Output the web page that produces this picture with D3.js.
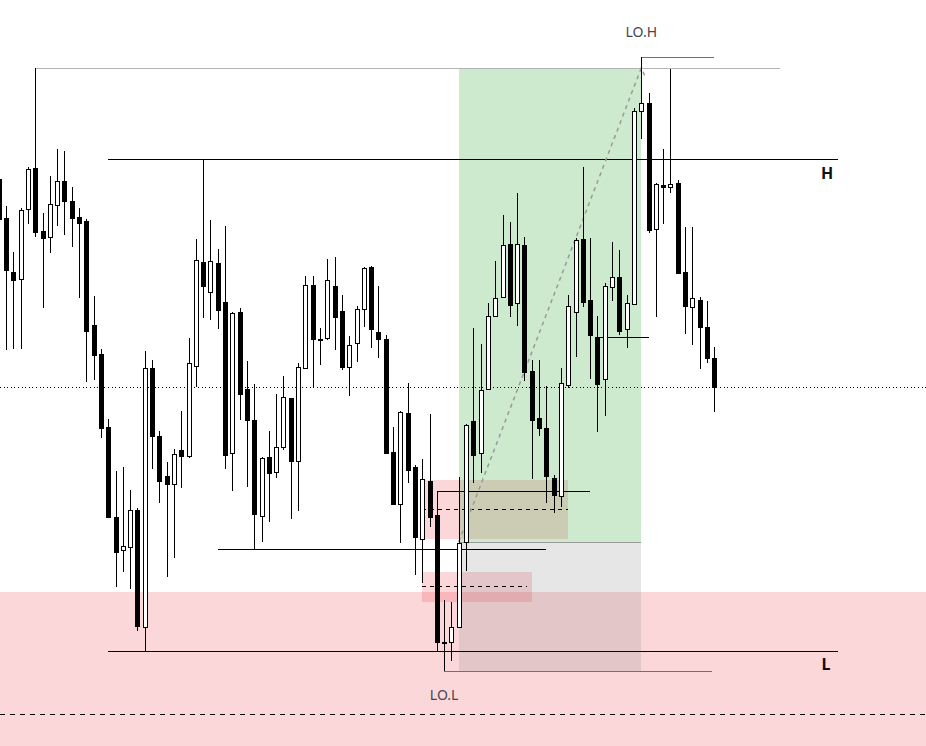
<!DOCTYPE html>
<html>
<head>
<meta charset="utf-8">
<script src="https://cdn.jsdelivr.net/npm/d3@7/dist/d3.min.js"></script>
<style>
  body { margin: 0; background: #fff; }
  svg { display: block; }
</style>
</head>
<body>
<svg id="chart"></svg>
<script>
// one candle per bar, oldest first (first bar is cut by the left edge)
const opens = [
  821, 782, 728, 721, 791, 832, 769, 763, 795, 819,
  799, 783, 779, 675, 646, 573, 483, 450, 453, 490,
  373, 632, 564, 524, 516, 550, 544, 634, 738, 708,
  737, 698, 547, 688, 611, 580, 484, 543, 528, 553,
  602, 539, 632, 715, 661, 662, 714, 689, 633, 657,
  691, 733, 668, 661, 548, 496, 587, 533, 461, 519,
  485, 358, 358, 373, 458, 579, 547, 611, 684, 703,
  756, 697, 755, 629, 582, 572, 522, 504, 615, 688,
  761, 700, 663, 621, 713, 723, 671, 696, 889, 897,
  771, 815, 813, 817, 728, 693, 700, 673, 642
];
const highs = [
  830, 794, 748, 792, 833, 932, 787, 824, 851, 849,
  813, 792, 781, 704, 651, 581, 529, 533, 510, 492,
  649, 640, 569, 538, 551, 589, 662, 761, 841, 780,
  751, 774, 688, 692, 639, 616, 543, 569, 606, 624,
  602, 637, 724, 724, 672, 741, 743, 705, 664, 694,
  733, 734, 714, 665, 573, 589, 617, 535, 541, 586,
  509, 400, 398, 523, 576, 672, 656, 697, 739, 785,
  778, 807, 763, 640, 640, 614, 525, 632, 705, 762,
  833, 762, 684, 717, 758, 750, 705, 892, 943, 907,
  817, 851, 931, 820, 773, 773, 703, 699, 653
];
const lows = [
  774, 650, 651, 651, 776, 763, 692, 747, 774, 765,
  753, 702, 618, 620, 562, 482, 413, 428, 411, 369,
  349, 531, 497, 423, 442, 512, 542, 613, 682, 680,
  671, 531, 509, 580, 513, 451, 458, 478, 522, 550,
  481, 489, 631, 613, 635, 660, 650, 630, 604, 638,
  673, 652, 642, 547, 495, 457, 517, 425, 417, 473,
  349, 329, 339, 373, 429, 517, 527, 611, 684, 702,
  683, 674, 619, 521, 564, 497, 487, 493, 612, 643,
  693, 621, 568, 584, 699, 665, 652, 696, 861, 767,
  683, 776, 807, 727, 666, 655, 631, 637, 588
];
const closes = [
  781, 730, 720, 790, 831, 768, 762, 796, 819, 799,
  782, 777, 669, 645, 572, 483, 448, 454, 490, 374,
  632, 564, 519, 516, 546, 544, 637, 740, 714, 739,
  690, 545, 687, 606, 580, 486, 542, 527, 553, 603,
  539, 633, 715, 661, 660, 720, 683, 633, 655, 691,
  732, 671, 661, 547, 496, 588, 530, 463, 521, 483,
  358, 358, 373, 457, 575, 545, 610, 684, 702, 755,
  695, 756, 628, 580, 572, 524, 505, 617, 694, 760,
  698, 665, 616, 714, 723, 669, 697, 889, 897, 770,
  816, 813, 816, 727, 694, 702, 673, 642, 613
];

// price levels drawn on the chart
const levelH = 841;
const levelL = 349;
const rangeHigh = 932;
const midLine = 613;
const zoneTop = 408;
const zoneLine = 286;
const target = 932;
const entry = 458;
const stop = 329;
const gapA = [520, 461, 491]; // top, bottom, middle
const gapB = [428, 398, 414];
const swingA = 509;
const swingB = 451;
const swingC = 663;
const loHigh = 943;
const loLow = 329;

const width = 926;
const height = 746;
const candles = opens.map((o, i) => ({
  i,
  open: o,
  high: highs[i],
  low: lows[i],
  close: closes[i],
}));

const svg = d3.select("#chart").attr("width", width).attr("height", height);
const x = d3.scaleLinear().domain([0, 98]).range([-1.3, 714.3]);
const y = d3.scaleLinear().domain([254, 1000]).range([height, 0]);

const px = (v) => Math.round(v) + 0.5;

function hline(g, price, i0, i1, opts = {}) {
  const x0 = i0 === null ? 0 : Math.round(x(i0));
  const x1 = i1 === null ? width : Math.round(x(i1));
  return g
    .append("line")
    .attr("x1", x0)
    .attr("x2", x1)
    .attr("y1", px(y(price)))
    .attr("y2", px(y(price)))
    .attr("stroke", opts.color || "#000")
    .attr("stroke-width", 1)
    .attr("stroke-dasharray", opts.dash || null);
}

function box(g, i0, i1, top, bottom, fill) {
  g.append("rect")
    .attr("x", Math.round(x(i0)))
    .attr("y", Math.round(y(top)))
    .attr("width", Math.round(x(i1)) - Math.round(x(i0)))
    .attr("height", Math.round(y(bottom)) - Math.round(y(top)))
    .attr("fill", fill);
}

const pink = "rgba(242,54,69,0.2)";

// zones (pink gaps first so the green box tints them)
const zones = svg.append("g");
zones
  .append("rect")
  .attr("x", 0)
  .attr("y", Math.round(y(zoneTop)))
  .attr("width", width)
  .attr("height", height - Math.round(y(zoneTop)))
  .attr("fill", pink);
box(zones, 58, 78, gapA[0], gapA[1], pink);
box(zones, 58, 73, gapB[0], gapB[1], pink);
box(zones, 63, 88, target, entry, "rgba(76,175,80,0.28)");
box(zones, 63, 88, entry, stop, "rgba(128,128,128,0.2)");

// lines
const lines = svg.append("g").attr("shape-rendering", "crispEdges");
hline(lines, zoneLine, null, null, { dash: "5,5" });
hline(lines, midLine, null, null, { dash: "1,2.6" });
hline(lines, gapA[2], 58, 78, { dash: "4,4" });
hline(lines, gapB[2], 58, 72.4, { dash: "4,4" });
hline(lines, entry, 63, 88, { color: "#999" });
hline(lines, rangeHigh, 5, 107, { color: "#b4b4b4" });
hline(lines, levelH, 15, 115);
hline(lines, levelL, 15, 115);
hline(lines, swingA, 60, 81);
hline(lines, swingB, 30, 75);
hline(lines, swingC, 82, 89);
hline(lines, loHigh, 88, 98, { color: "#e04048" });
hline(lines, loLow, 61, 97.7, { color: "#e04048" });

// path from entry to target
svg
  .append("path")
  .attr("d", d3.line()([
    [x(63), y(entry)],
    [x(88), y(target)],
    [x(88.5), y(target - 8)],
  ]))
  .attr("fill", "none")
  .attr("stroke", "#9a9a9a")
  .attr("stroke-width", 1.5)
  .attr("stroke-dasharray", "4,4");

// candles
const cg = svg
  .append("g")
  .attr("shape-rendering", "crispEdges")
  .selectAll("g")
  .data(candles)
  .join("g");

cg.append("line")
  .attr("x1", (d) => px(x(d.i)))
  .attr("x2", (d) => px(x(d.i)))
  .attr("y1", (d) => Math.round(y(d.high)))
  .attr("y2", (d) => Math.round(y(d.low)))
  .attr("stroke", "#000");

cg.append("rect")
  .attr("x", (d) => Math.round(x(d.i)) - 1.5)
  .attr("y", (d) => px(y(Math.max(d.open, d.close))))
  .attr("width", 4)
  .attr("height", (d) =>
    Math.max(1, Math.round(y(Math.min(d.open, d.close)) - y(Math.max(d.open, d.close))))
  )
  .attr("fill", (d) => (d.close < d.open ? "#000" : "#fff"))
  .attr("stroke", "#000");

// labels
const labels = svg
  .append("g")
  .attr("font-family", "'Noto Sans', sans-serif");

labels
  .append("text")
  .attr("x", x(88))
  .attr("y", y(loHigh) - 20)
  .attr("text-anchor", "middle")
  .attr("font-size", 14)
  .attr("fill", "#434651")
  .text("LO.H");

labels
  .append("text")
  .attr("x", x(61))
  .attr("y", y(loLow) + 29)
  .attr("text-anchor", "middle")
  .attr("font-size", 14)
  .attr("fill", "#434651")
  .text("LO.L");

labels
  .append("text")
  .attr("x", 827)
  .attr("y", y(levelH) + 20)
  .attr("text-anchor", "middle")
  .attr("font-size", 16)
  .attr("font-weight", "bold")
  .attr("fill", "#111")
  .text("H");

labels
  .append("text")
  .attr("x", 826)
  .attr("y", y(levelL) + 19)
  .attr("text-anchor", "middle")
  .attr("font-size", 16)
  .attr("font-weight", "bold")
  .attr("fill", "#111")
  .text("L");
</script>
</body>
</html>
